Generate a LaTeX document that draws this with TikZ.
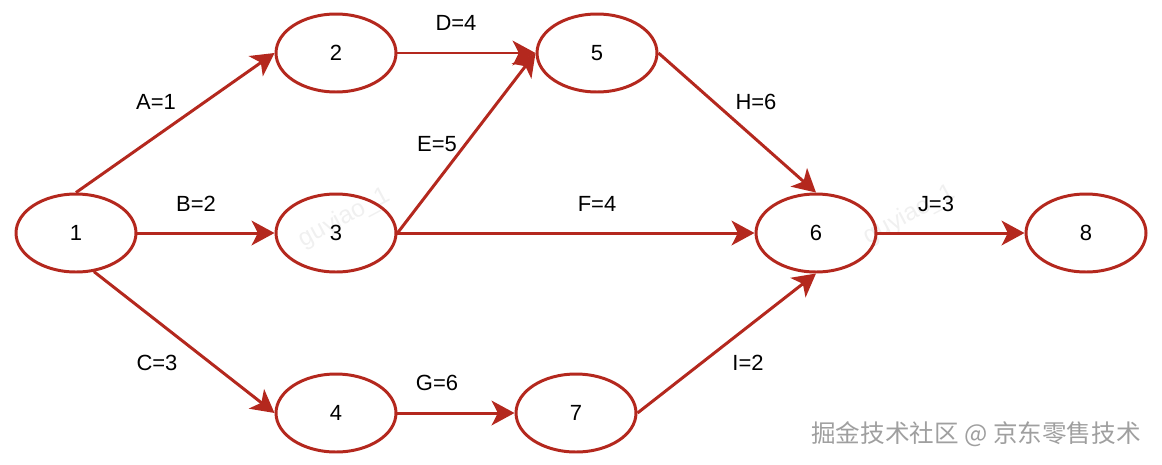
\documentclass[tikz,border=0pt]{standalone}
\usepackage{fontspec}
\setmainfont{Liberation Sans}
\newfontfamily\cjk{Noto Sans CJK SC}
\usepackage{tikz}
\usetikzlibrary{arrows.meta, positioning, shapes}
\definecolor{netred}{RGB}{180,40,30}

\begin{document}
\begin{tikzpicture}[x=0.02cm, y=-0.02cm,
    event/.style={draw=netred, line width=1.7pt, ellipse, minimum width=2.4cm, minimum height=1.56cm, inner sep=0pt, font=\fontsize{12.5}{15}\selectfont},
    act/.style={draw=netred, line width=1.7pt, -{Stealth[length=13pt, width=14pt, inset=3.5pt]}},
    lbl/.style={inner sep=0pt, font=\fontsize{12.5}{15}\selectfont},
    wmark/.style={text=gray!12, rotate=28, inner sep=0pt, font=\fontsize{14}{16}\selectfont}]
    \useasboundingbox (0,0) rectangle (1162,464);

    \node[wmark] (wm1) at (345,218) {guyiao\_1};
    \node[wmark] (wm2) at (910,215) {guyiao\_1};

    \node[event] (n1) at (76,233) {1};
    \node[event] (n2) at (336,53) {2};
    \node[event] (n3) at (336,233) {3};
    \node[event] (n4) at (336,413) {4};
    \node[event] (n5) at (597,53) {5};
    \node[event] (n6) at (816,233) {6};
    \node[event] (n7) at (576,413) {7};
    \node[event] (n8) at (1086,233) {8};

    \draw[act] (n1.north) -- (n2.west);
    \draw[act] (n1.east) -- (n3.west);
    \draw[act] (n1.-65) -- (n4.west);
    \draw[act] (n2.east) -- (n5.west);
    \draw[act] (n3.east) -- (n5.west);
    \draw[act] (n3.east) -- (n6.west);
    \draw[act] (n4.east) -- (n7.west);
    \draw[act] (n5.east) -- (n6.north);
    \draw[act] (n7.east) -- (n6.south);
    \draw[act] (n6.east) -- (n8.west);

    \node[lbl] (lA) at (156,102) {A=1};
    \node[lbl] (lB) at (196,204) {B=2};
    \node[lbl] (lC) at (157,363) {C=3};
    \node[lbl] (lD) at (456,23) {D=4};
    \node[lbl] (lE) at (437,144) {E=5};
    \node[lbl] (lF) at (597,204) {F=4};
    \node[lbl] (lG) at (437,383) {G=6};
    \node[lbl] (lH) at (756,102) {H=6};
    \node[lbl] (lI) at (748,363) {I=2};
    \node[lbl] (lJ) at (936,204) {J=3};

    \node[text=gray!75, font=\cjk\fontsize{14}{16}\selectfont] (mark) at (976,434) {掘金技术社区 @ 京东零售技术};
\end{tikzpicture}
\end{document}
